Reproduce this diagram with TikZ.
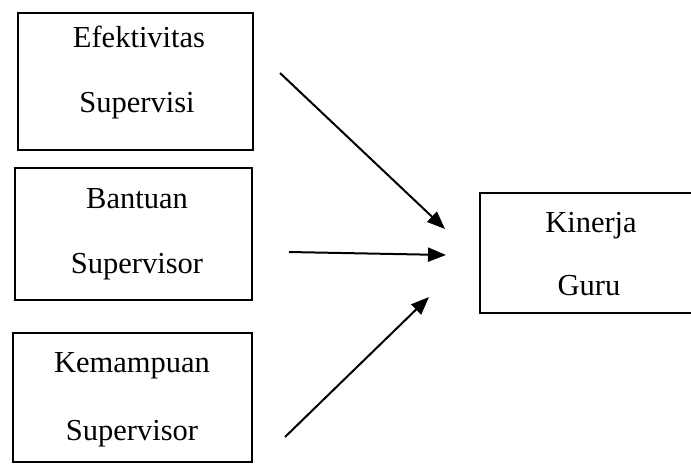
\documentclass[tikz,border=0pt]{standalone}
\usepackage{fontspec}
\setmainfont{Liberation Serif}
\usetikzlibrary{arrows.meta}
\begin{document}
\begin{tikzpicture}[x=1pt,y=-1pt,
  box/.style={draw, line width=2pt, rectangle, inner sep=0pt},
  lbl/.style={anchor=base, font=\fontsize{30.5}{36}\selectfont, inner sep=0pt},
  conn/.style={line width=2pt, -{Triangle[length=18pt,width=14pt]}}]
\clip (0,0) rectangle (691,466);
\fill[white] (0,0) rectangle (691,466);
% boxes
\node[box, minimum width=235pt, minimum height=137pt] (b1) at (135.5,81) {};
\node[box, minimum width=237pt, minimum height=132pt] (b2) at (133.5,234) {};
\node[box, minimum width=239pt, minimum height=129pt] (b3) at (132.5,397.5) {};
\node[box, minimum width=216pt, minimum height=120pt] (k) at (588,253) {};
% labels
\node[lbl] (t1a) at (139,47) {Efektivitas};
\node[lbl] (t1b) at (137,112) {Supervisi};
\node[lbl] (t2a) at (137,208) {Bantuan};
\node[lbl] (t2b) at (137,273) {Supervisor};
\node[lbl] (t3a) at (132,372) {Kemampuan};
\node[lbl] (t3b) at (132,440) {Supervisor};
\node[lbl] (t4a) at (591,232) {Kinerja};
\node[lbl] (t4b) at (589,295) {Guru};
% connector ends
\coordinate (s1) at (280,73);
\coordinate (e1) at (445,229);
\coordinate (s2) at (289,252);
\coordinate (e2) at (446,255);
\coordinate (s3) at (285,437);
\coordinate (e3) at (429,297);
\draw[conn] (s1) -- (e1);
\draw[conn] (s2) -- (e2);
\draw[conn] (s3) -- (e3);
\end{tikzpicture}
\end{document}
